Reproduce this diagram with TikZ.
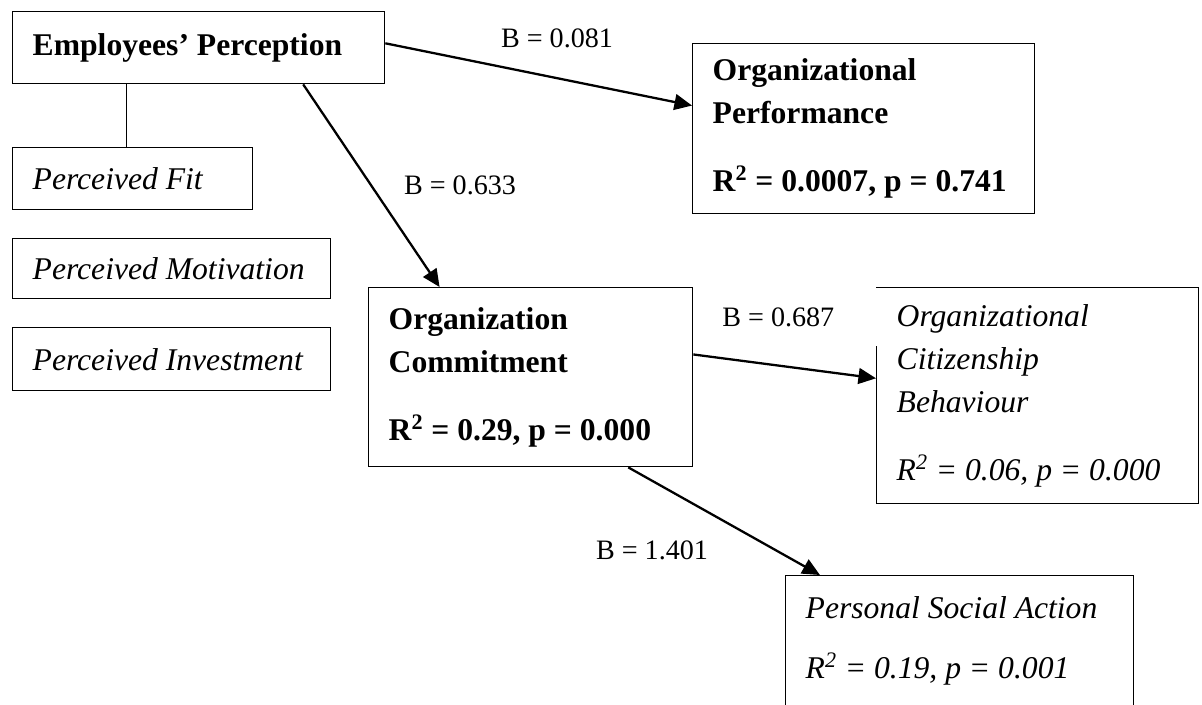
\documentclass[tikz,border=0pt]{standalone}
\usepackage{fontspec}
\setmainfont{Liberation Serif}
\usepackage{tikz}
\usetikzlibrary{positioning}
\usetikzlibrary{arrows.meta,shapes}
\usetikzlibrary{calc}

\tikzset{
  box/.style={draw, line width=0.8pt, anchor=north west, align=left, inner xsep=0.4cm, inner ysep=0pt,
    font=\fontsize{18}{24.5}\selectfont, execute at begin node={\spaceskip=0pt\xspaceskip=0pt\relax}},
  arrowline/.style={-{Triangle[length=10pt,width=9pt]}, line width=1.3pt},
  blabel/.style={font=\fontsize{16}{19}\selectfont, inner sep=1pt, execute at begin node={\spaceskip=0pt\xspaceskip=0pt\relax}}
}

\begin{document}
\begin{tikzpicture}[x=0.02cm, y=-0.02cm]
 \clip (0,0) rectangle (1202,704);

 % perception and its parts
 \node[box, text width=6.64cm, minimum height=1.44cm] (ep) at (12,11) {\bfseries Employees’ Perception};

 \foreach \i/\y/\w/\h/\name in { 1/147/4.0/1.24/Fit, 2/238/5.56/1.2/Motivation, 3/327/5.56/1.26/Investment } {
    \node[box, text width=\w cm, minimum height=\h cm] (p\i) at (12,\y) {\itshape Perceived \name};
 }

 \draw[line width=0.8pt] ([xshift=-0.12cm]p1.north) -- ([xshift=-0.12cm]p1.north |- ep.south);

 % outcomes
 \node[box, text width=6.04cm, minimum height=3.4cm] (op) at (692,43)
   {\bfseries Organizational\\ Performance\\[14pt] R\textsuperscript{2} = 0.0007, p = 0.741};
 \node[box, text width=5.68cm, minimum height=3.58cm] (oc) at (368,287)
   {\bfseries Organization\\ Commitment\\[14pt] R\textsuperscript{2} = 0.29, p = 0.000};
 \node[box, text width=5.64cm, minimum height=4.32cm] (ocb) at (876,287)
   {\itshape Organizational\\ Citizenship\\ Behaviour\\[14pt] R\textsuperscript{2} = 0.06, p = 0.000};
 \node[box, text width=6.16cm, minimum height=2.62cm] (psa) at (785,575)
   {\itshape Personal Social Action\\[9.5pt] R\textsuperscript{2} = 0.19, p = 0.001};

 % coefficients
 \foreach \x/\y/\val in { 557/38/0.081, 460/185/0.633, 652/550/1.401 }
    \node[blabel] (b\val) at (\x,\y) {B = \val};
 \node[blabel, fill=white, inner sep=0pt, anchor=west, text width=3.1cm, minimum height=1.16cm] (b0.687) at (722,317) {B = 0.687};

 % paths
 \draw[arrowline] ($(ep.north east)!0.44!(ep.south east)$) -- ($(op.north west)!0.365!(op.south west)$);
 \draw[arrowline] ($(ep.south west)!0.78!(ep.south east)$) -- ($(oc.north west)!0.22!(oc.north east)$);
 \draw[arrowline] ($(oc.north east)!0.374!(oc.south east)$) -- ($(ocb.north west)!0.42!(ocb.south west)$);
 \draw[arrowline] ($(oc.south west)!0.80!(oc.south east)$) -- ($(psa.north west)!0.10!(psa.north east)$);

\end{tikzpicture}
\end{document}
